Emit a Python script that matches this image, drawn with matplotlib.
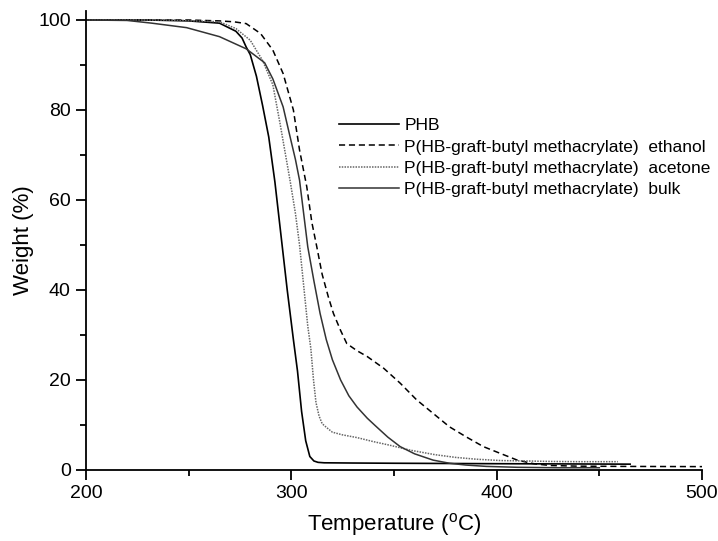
import matplotlib
matplotlib.use("Agg")
import matplotlib.pyplot as plt
from matplotlib.ticker import MultipleLocator

plt.rcParams['font.family'] = ['Liberation Sans', 'DejaVu Sans']
plt.rcParams['mathtext.fontset'] = 'custom'
plt.rcParams['mathtext.rm'] = 'Liberation Sans'

# PHB
phb_T = [200, 230, 250, 265, 273, 276, 278, 280, 283, 286, 289, 292, 295, 298, 301, 303,
         305, 307, 309, 311, 313, 316, 330, 350, 400, 465]
phb_W = [100, 100, 99.8, 99.3, 97.5, 96, 94, 92.3, 87.5, 81, 74, 64, 52, 40, 29, 22,
         13, 6.5, 3, 2, 1.7, 1.6, 1.55, 1.5, 1.4, 1.3]

# P(HB-graft-butyl methacrylate) ethanol
eth_T = [200, 250, 265, 272, 278, 285, 291, 296, 301, 304, 307.5, 310, 312.4, 315, 318,
         320.5, 324, 327, 332, 337, 345, 353, 361, 369, 377, 385, 393.5, 401.7, 410, 418,
         426, 440, 460, 500]
eth_W = [100, 100, 99.8, 99.6, 99.2, 97, 93.3, 88.1, 80, 71.1, 63, 55, 49.6, 43.5, 38.5,
         34.8, 31, 28.1, 26.5, 25.2, 22.6, 19.3, 15.6, 12.6, 9.6, 7.4, 5.2, 3.7, 2.2, 1.4,
         1.0, 0.85, 0.8, 0.75]

# P(HB-graft-butyl methacrylate) acetone
ace_T = [200, 240, 265, 273, 280, 286, 291, 294.5, 297, 299.5, 302, 304, 306, 308, 309.5,
         310.8, 312, 313.5, 315, 317, 320, 325, 332, 340, 348, 358, 370, 380, 390, 402,
         415, 426, 440, 459]
ace_W = [100, 100, 99.6, 98.1, 95.5, 91, 85.6, 77, 70.5, 64, 57, 50, 41, 32, 27,
         20, 15, 12, 10.3, 9.5, 8.4, 7.8, 7.2, 6.3, 5.5, 4.4, 3.4, 2.8, 2.4, 2.1,
         2.0, 1.9, 1.85, 1.85]

# P(HB-graft-butyl methacrylate) bulk
blk_T = [200, 220, 232, 249, 265, 278, 287, 291, 296, 299, 302, 304, 308, 311, 314, 317,
         320, 324, 328, 332, 337, 341, 347, 353, 360, 369, 377, 385, 395, 410, 430, 450]
blk_W = [100, 99.9, 99.3, 98.3, 96.3, 93.6, 90.5, 86.9, 80.7, 74.8, 69, 64.4, 49.6, 42,
         34.8, 29, 24.5, 20, 16.5, 14, 11.5, 9.8, 7.3, 5.2, 3.6, 2.2, 1.5, 1.1, 0.8, 0.6,
         0.5, 0.5]

labels = ['PHB',
          'P(HB-graft-butyl methacrylate)  ethanol',
          'P(HB-graft-butyl methacrylate)  acetone',
          'P(HB-graft-butyl methacrylate)  bulk']

fig = plt.figure(figsize=(7.18, 5.41), dpi=100)
ax = fig.add_axes([86/718, 1-470/541, 616/718, 459/541])

ax.plot(phb_T, phb_W, color='black', lw=1.2, label=labels[0])
ax.plot(eth_T, eth_W, color='black', lw=1.1, dashes=(4, 2.5), label=labels[1])
ax.plot(ace_T, ace_W, color='#666666', lw=1.1, ls=(0, (1, 0.8)), label=labels[2])
ax.plot(blk_T, blk_W, color='#333333', lw=1.1, label=labels[3])

ax.set_xlim(200, 500)
ax.set_ylim(0, 102)
ax.xaxis.set_major_locator(MultipleLocator(100))
ax.xaxis.set_minor_locator(MultipleLocator(50))
ax.yaxis.set_major_locator(MultipleLocator(20))
ax.yaxis.set_minor_locator(MultipleLocator(10))
ax.tick_params(which='major', direction='out', length=7, width=1.3, labelsize=14, pad=4)
ax.tick_params(which='minor', direction='out', length=4, width=1.3)

for s in ['top', 'right']:
    ax.spines[s].set_visible(False)
for s in ['left', 'bottom']:
    ax.spines[s].set_linewidth(1.3)

ax.set_xlabel(r'Temperature ($^{\rm o}$C)', fontsize=16, labelpad=6)
ax.set_ylabel('Weight (%)', fontsize=16, labelpad=3)

leg = ax.legend(loc='upper left', bbox_to_anchor=(0.4, 0.782), frameon=False,
                fontsize=12.5, handlelength=3.45, handletextpad=0.3, labelspacing=0.36,
                borderaxespad=0)

fig.savefig('out.png', dpi=100)
